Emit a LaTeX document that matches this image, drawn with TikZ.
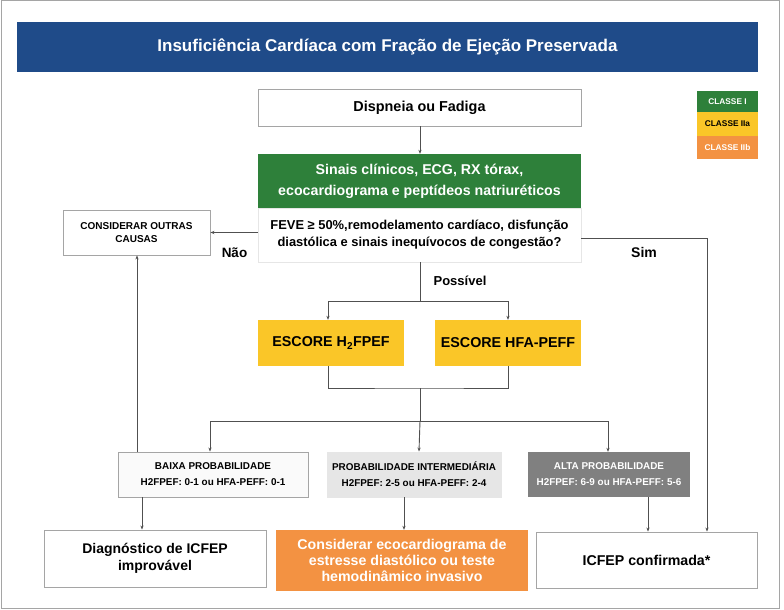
\documentclass[tikz,border=0pt]{standalone}
\usepackage{fontspec}
\setmainfont{Liberation Sans}
\usetikzlibrary{arrows.meta}
\definecolor{tblue}{RGB}{31,75,137}
\definecolor{cgreen}{RGB}{46,128,58}
\definecolor{cyellow}{RGB}{250,198,40}
\definecolor{corange}{RGB}{243,146,66}
\definecolor{cdark}{RGB}{128,128,128}
\definecolor{clight}{RGB}{230,230,230}
\definecolor{cwhite}{RGB}{250,250,250}
\definecolor{bord}{RGB}{165,165,165}
\definecolor{lin}{RGB}{80,80,80}
\tikzset{
  box/.style={rectangle, inner sep=0pt, align=center, font=\bfseries},
  wbox/.style={box, draw=bord, line width=0.9pt, fill=white},
  arr/.style={draw=lin, line width=0.9pt, -{Stealth[length=4pt,width=3.2pt]}},
  ln/.style={draw=lin, line width=0.9pt},
  lbl/.style={font=\bfseries\fontsize{12.5}{14}\selectfont, inner sep=0pt}
}
\begin{document}
\begin{tikzpicture}[x=1pt,y=-1pt]
\useasboundingbox (0,0) rectangle (784,610);
\draw[draw=bord, line width=1pt] (1,1) rectangle (779,608);
% title
\node[box, fill=tblue, text=white, minimum width=741, minimum height=50,
  font=\bfseries\fontsize{17}{20}\selectfont] (title) at (387.5,47)
  {Insuficiência Cardíaca com Fração de Ejeção Preservada};
% legend
\node[box, fill=cgreen, text=white, minimum width=61, minimum height=21,
  font=\bfseries\fontsize{8.3}{9}\selectfont] (c1) at (727.5,101.5) {CLASSE I};
\node[box, fill=cyellow, text=black, minimum width=61, minimum height=24,
  font=\bfseries\fontsize{8.3}{9}\selectfont] (c2) at (727.5,124) {CLASSE IIa};
\node[box, fill=corange, text=white, minimum width=61, minimum height=23,
  font=\bfseries\fontsize{8.3}{9}\selectfont] (c3) at (727.5,147.5) {CLASSE IIb};
% main column
\node[wbox, minimum width=323, minimum height=37,
  font=\bfseries\fontsize{14.4}{16}\selectfont] (disp) at (419.5,107.5) {Dispneia ou Fadiga};
\node[box, fill=cgreen, text=white, minimum width=323, minimum height=54,
  font=\bfseries\fontsize{14.2}{21}\selectfont] (green) at (419.5,181)
  {Sinais clínicos, ECG, RX tórax,\\ecocardiograma e peptídeos natriuréticos};
\node[wbox, draw=clight, minimum width=323, minimum height=54,
  font=\bfseries\fontsize{12.9}{17}\selectfont] (feve) at (419.5,235)
  {FEVE ≥ 50\%,remodelamento cardíaco, disfunção\\diastólica e sinais inequívocos de congestão?};
\node[wbox, minimum width=147, minimum height=45,
  font=\bfseries\fontsize{10}{13}\selectfont] (outras) at (136.5,232.5)
  {CONSIDERAR OUTRAS\\CAUSAS};
% scores
\node[box, fill=cyellow, minimum width=146, minimum height=46,
  font=\bfseries\fontsize{14.3}{16}\selectfont] (h2) at (331,343) {ESCORE H\textsubscript{2}FPEF};
\node[box, fill=cyellow, minimum width=146, minimum height=46,
  font=\bfseries\fontsize{14.3}{16}\selectfont] (hfa) at (508,343) {ESCORE HFA-PEFF};
% probability row
\node[wbox, fill=cwhite, minimum width=190, minimum height=45,
  font=\bfseries\fontsize{9.9}{16}\selectfont] (low) at (213,474.5)
  {BAIXA PROBABILIDADE\\H2FPEF: 0-1 ou HFA-PEFF: 0-1};
\node[wbox, fill=clight, draw=clight, minimum width=174, minimum height=45,
  font=\bfseries\fontsize{9.9}{16}\selectfont] (mid) at (414,474.5)
  {PROBABILIDADE INTERMEDIÁRIA\\H2FPEF: 2-5 ou HFA-PEFF: 2-4};
\node[box, fill=cdark, text=white, minimum width=162, minimum height=45,
  font=\bfseries\fontsize{9.9}{16}\selectfont] (alta) at (609,474.5)
  {ALTA PROBABILIDADE\\H2FPEF: 6-9 ou HFA-PEFF: 5-6};
% bottom row
\node[wbox, minimum width=222, minimum height=57,
  font=\bfseries\fontsize{14}{17}\selectfont] (diag) at (155,558.5)
  {Diagnóstico de ICFEP\\improvável};
\node[box, fill=corange, text=white, minimum width=252, minimum height=61,
  font=\bfseries\fontsize{14.2}{15.8}\selectfont] (orng) at (402,560.5)
  {Considerar ecocardiograma de\\estresse diastólico ou teste\\hemodinâmico invasivo};
\node[wbox, minimum width=221, minimum height=56,
  font=\bfseries\fontsize{14.2}{16}\selectfont] (conf) at (646.5,560) {ICFEP confirmada*};
% helper coordinates
\coordinate (split1) at (420,301);
\coordinate (xh2) at (328,0);
\coordinate (xhfa) at (508,0);
\coordinate (join) at (420,388);
\coordinate (split2) at (420,421);
\coordinate (xlow) at (210,0);
\coordinate (xmid) at (419,0);
\coordinate (xalta) at (608,0);
\coordinate (xd1) at (142,0);
\coordinate (xd2) at (404,0);
\coordinate (xd3) at (648,0);
\coordinate (xup) at (137,0);
\coordinate (xsim) at (707,0);
\coordinate (ysim) at (0,238);
% connectors
\draw[arr] (disp.south -| split1) -- (green.north -| split1);
\draw[arr] (feve.west |- outras.east) -- (outras.east);
\draw[arr] (feve.east |- ysim) -| (conf.north -| xsim);
\draw[ln] (feve.south -| split1) -- (split1);
\draw[arr] (split1) -| (h2.north -| xh2);
\draw[arr] (split1) -| (hfa.north -| xhfa);
\draw[ln] (h2.south -| xh2) |- (join) -| (hfa.south -| xhfa);
\draw[ln] (join) -- (split2);
\draw[arr] (split2) -| (low.north -| xlow);
\draw[arr] (split2) -| (alta.north -| xalta);
\draw[arr] (split2) -- (mid.north -| xmid);
\draw[arr] (low.north -| xup) -- (outras.south -| xup);
\draw[arr] (low.south -| xd1) -- (diag.north -| xd1);
\draw[arr] (mid.south -| xd2) -- (orng.north -| xd2);
\draw[arr] (alta.south -| xd3) -- (conf.north -| xd3);
% labels
\node[lbl, font=\bfseries\fontsize{13.5}{15}\selectfont] (nao) at (234.5,253) {Não};
\node[lbl, font=\bfseries\fontsize{14}{15}\selectfont] (sim) at (644,252) {Sim};
\node[lbl, font=\bfseries\fontsize{13}{14}\selectfont] (poss) at (460,281) {Possível};
\end{tikzpicture}
\end{document}
